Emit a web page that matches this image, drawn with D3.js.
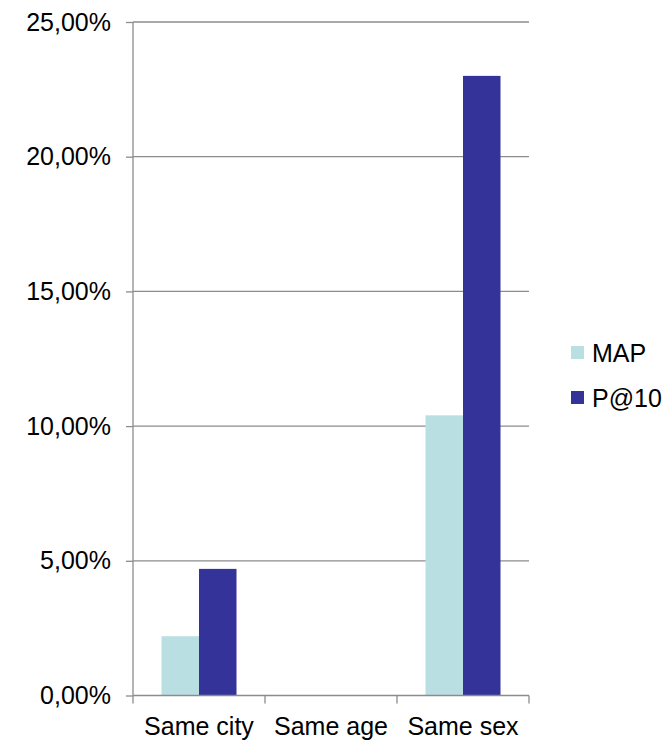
<!DOCTYPE html>
<meta charset="utf-8">
<html><head>
<title>Chart</title>
<style>
  body { margin: 0; background: #fff; }
  text { font-family: "Liberation Sans", Arial, sans-serif; fill: #000; }
</style>
</head><body>
<script src="https://cdn.jsdelivr.net/npm/d3@7"></script>
<script>

var categories = ["Same city", "Same age", "Same sex"];
var series = ["MAP", "P@10"];
var mapValues = [0.022, 0, 0.104];
var p10Values = [0.047, 0, 0.230];
var yTicks = [0, 0.05, 0.10, 0.15, 0.20, 0.25];
var colors = ["#b9dfe3", "#333399"];

var width = 670,
    height = 742;
var margin = {top: 22, left: 133, right: 141, bottom: 46.5};
var plotW = width - margin.left - margin.right,
    plotH = height - margin.top - margin.bottom;

var svg = d3.select("body").append("svg")
    .attr("width", width)
    .attr("height", height);

var g = svg.append("g")
    .attr("transform", "translate(" + margin.left + "," + margin.top + ")");

var x0 = d3.scaleBand().domain(categories).range([0, plotW]);
var x1 = d3.scaleBand().domain(series).range([28.5, x0.bandwidth() - 28.5]);
var y = d3.scaleLinear().domain([0, 0.25]).range([plotH, 0]);

var fmt = function(v) { return d3.format(".2f")(v * 100).replace(".", ",") + "%"; };

// gridlines
g.append("g").selectAll("line")
    .data(yTicks.slice(1))
    .enter().append("line")
    .attr("x1", 0).attr("x2", plotW)
    .attr("y1", function(d) { return y(d); })
    .attr("y2", function(d) { return y(d); })
    .attr("stroke", "#8c8c8c")
    .attr("stroke-width", 1.3);

// bars
var rows = categories.map(function(c, i) {
  return {cat: c, vals: [mapValues[i], p10Values[i]]};
});

g.append("g").selectAll("g")
    .data(rows)
    .enter().append("g")
    .attr("transform", function(d) { return "translate(" + x0(d.cat) + ",0)"; })
    .selectAll("rect")
    .data(function(d) { return d.vals.map(function(v, j) { return {s: series[j], v: v, j: j}; }); })
    .enter().append("rect")
    .attr("x", function(d) { return x1(d.s); })
    .attr("width", x1.bandwidth())
    .attr("y", function(d) { return y(d.v); })
    .attr("height", function(d) { return plotH - y(d.v); })
    .attr("fill", function(d) { return colors[d.j]; });

// y axis
var yAxis = d3.axisLeft(y).tickValues(yTicks).tickFormat(fmt).tickSize(7).tickPadding(15);
var ya = g.append("g").call(yAxis);
ya.selectAll("line, path").attr("stroke", "#8c8c8c").attr("stroke-width", 1.3);
ya.select(".domain").attr("d", "M0,0V" + plotH);
ya.selectAll("text").style("font-size", "25px").attr("font-family", null);

// x axis
var xa = g.append("g").attr("transform", "translate(0," + plotH + ")");
xa.append("line").attr("x1", 0).attr("x2", plotW)
    .attr("stroke", "#8c8c8c").attr("stroke-width", 1.3);
var bounds = categories.map(function(c) { return x0(c); }).concat([plotW]);
xa.selectAll(".tk").data(bounds).enter().append("line")
    .attr("x1", function(d) { return d; }).attr("x2", function(d) { return d; })
    .attr("y1", 0).attr("y2", 8)
    .attr("stroke", "#8c8c8c").attr("stroke-width", 1.3);
xa.selectAll(".lbl").data(categories).enter().append("text")
    .attr("x", function(d) { return x0(d) + x0.bandwidth() / 2; })
    .attr("y", 39.5)
    .attr("text-anchor", "middle")
    .style("font-size", "25px")
    .text(function(d) { return d; });

// legend
var legend = svg.append("g").attr("transform", "translate(571,346)");
var li = legend.selectAll("g").data(series).enter().append("g")
    .attr("transform", function(d, i) { return "translate(0," + (i * 45) + ")"; });
li.append("rect").attr("width", 13).attr("height", 13)
    .attr("fill", function(d, i) { return colors[i]; });
li.append("text").attr("x", 21).attr("y", 15.5)
    .style("font-size", "25px")
    .text(function(d) { return d; });

</script>
</body>
</html>
